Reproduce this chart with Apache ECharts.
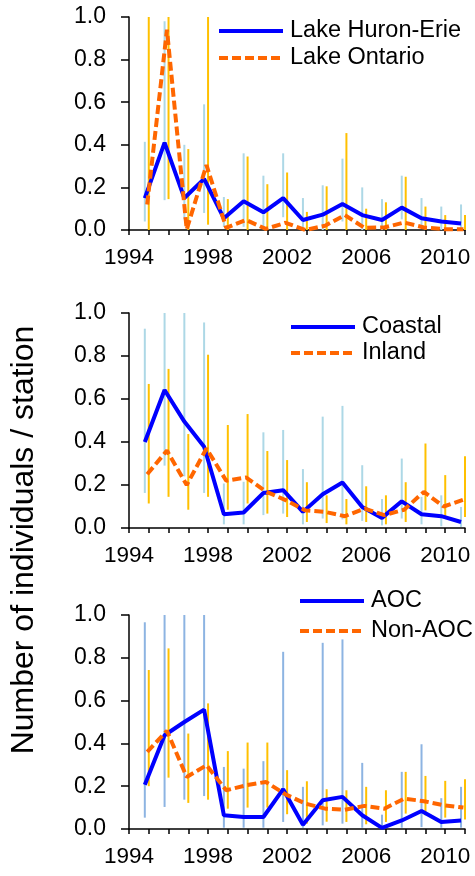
<!DOCTYPE html>
<html>
<head>
<meta charset="utf-8">
<script src="https://cdn.jsdelivr.net/npm/echarts@6/dist/echarts.min.js"></script>
<style>
  html, body { margin: 0; padding: 0; background: #fff; }
  #chart { width: 475px; height: 876px; }
</style>
</head>
<body>
<div id="chart"></div>
<script>
const years = [1995, 1996, 1997, 1998, 1999, 2000, 2001, 2002, 2003, 2004, 2005, 2006, 2007, 2008, 2009, 2010, 2011];

// panel 1
const huronErie = [0.15, 0.41, 0.15, 0.24, 0.055, 0.135, 0.083, 0.15, 0.047, 0.072, 0.122, 0.07, 0.047, 0.105, 0.055, 0.04, 0.03];
const huronErieLow = [0.04, 0.14, 0.05, 0.08, 0.015, 0.015, 0.015, 0.06, 0, 0, 0.04, 0, 0, 0.05, 0.015, 0, 0];
const huronErieHigh = [0.414, 0.98, 0.40, 0.59, 0.155, 0.36, 0.255, 0.36, 0.15, 0.21, 0.335, 0.2, 0.145, 0.255, 0.15, 0.11, 0.12];
const ontario = [0.12, 0.94, 0.003, 0.305, 0.01, 0.047, 0.005, 0.034, 0.0, 0.02, 0.07, 0.01, 0.012, 0.035, 0.012, 0.004, 0.004];
const ontarioLow = [0, 0.145, 0, 0.025, 0, 0, 0, 0, 0, 0, 0, 0, 0, 0, 0, 0, 0];
const ontarioHigh = [1, 1, 0.38, 1, 0.145, 0.345, 0.215, 0.27, 0.085, 0.205, 0.455, 0.10, 0.13, 0.25, 0.11, 0.07, 0.07];

// panel 2
const coastal = [0.40, 0.642, 0.495, 0.378, 0.064, 0.072, 0.163, 0.176, 0.075, 0.157, 0.212, 0.098, 0.047, 0.124, 0.064, 0.055, 0.028];
const coastalLow = [0.163, 0.29, 0.24, 0.163, 0.017, 0.017, 0.06, 0.067, 0.017, 0.044, 0.04, 0.033, 0.012, 0.044, 0.017, 0.008, 0.005];
const coastalHigh = [0.927, 1, 1, 0.956, 0.207, 0.215, 0.445, 0.456, 0.274, 0.518, 0.568, 0.292, 0.135, 0.323, 0.145, 0.152, 0.098];
const inland = [0.25, 0.36, 0.20, 0.37, 0.22, 0.235, 0.17, 0.13, 0.082, 0.075, 0.055, 0.09, 0.06, 0.085, 0.168, 0.10, 0.132];
const inlandLow = [0.114, 0.145, 0.085, 0.145, 0.085, 0.114, 0.067, 0.051, 0.028, 0.023, 0.017, 0.028, 0.017, 0.028, 0.082, 0.044, 0.051];
const inlandHigh = [0.67, 0.74, 0.437, 0.806, 0.479, 0.53, 0.358, 0.316, 0.213, 0.152, 0.135, 0.194, 0.152, 0.213, 0.393, 0.246, 0.334];

// panel 3
const aoc = [0.207, 0.438, 0.50, 0.558, 0.064, 0.056, 0.056, 0.186, 0.02, 0.134, 0.15, 0.064, 0.005, 0.04, 0.084, 0.033, 0.04];
const aocLow = [0.053, 0.103, 0.137, 0.154, 0.006, 0.006, 0.006, 0.033, 0.006, 0.017, 0.025, 0.006, 0, 0.006, 0.009, 0.006, 0.006];
const aocHigh = [0.966, 1, 1, 1, 0.29, 0.282, 0.317, 0.828, 0.197, 0.87, 0.886, 0.309, 0.067, 0.267, 0.396, 0.144, 0.197];
const nonAoc = [0.36, 0.459, 0.243, 0.298, 0.181, 0.204, 0.22, 0.162, 0.119, 0.095, 0.09, 0.108, 0.095, 0.142, 0.13, 0.111, 0.10];
const nonAocLow = [0.2, 0.24, 0.122, 0.137, 0.095, 0.1, 0.1, 0.069, 0.025, 0.034, 0.033, 0.022, 0.033, 0.072, 0.064, 0.053, 0.044];
const nonAocHigh = [0.743, 0.844, 0.446, 0.587, 0.364, 0.404, 0.404, 0.275, 0.223, 0.186, 0.181, 0.197, 0.181, 0.267, 0.248, 0.225, 0.232];

const yTicks = [0, 0.2, 0.4, 0.6, 0.8, 1.0];
const yTitle = 'Number of individuals / station';

const FONT = '"Liberation Sans", Arial, sans-serif';
const BLUE = '#0000ff';
const ORANGE = '#ff6600';
const GOLD = '#ffc000';

// blue series sit a bit left of the year, orange ones a bit right
const blueShift = -0.2, orangeShift = -0.08, orangeBarShift = 0;

const panels = [
  { top: 17, height: 213, names: ['Lake Huron-Erie', 'Lake Ontario'],
    a: huronErie, aLo: huronErieLow, aHi: huronErieHigh,
    b: ontario, bLo: ontarioLow, bHi: ontarioHigh,
    barBlue: '#add8e6', legend: { left: 217, top: 19, gap: 3 } },
  { top: 313, height: 215, names: ['Coastal', 'Inland'],
    a: coastal, aLo: coastalLow, aHi: coastalHigh,
    b: inland, bLo: inlandLow, bHi: inlandHigh,
    barBlue: '#add8e6', legend: { left: 289, top: 315, gap: 2 } },
  { top: 615, height: 214, names: ['AOC', 'Non-AOC'],
    a: aoc, aLo: aocLow, aHi: aocHigh,
    b: nonAoc, bLo: nonAocLow, bHi: nonAocHigh,
    barBlue: '#8db4e2', legend: { left: 298, top: 589, gap: 6 } }
];

const errorBar = (color) => (params, api) => {
  const p1 = api.coord([api.value(0), api.value(1)]);
  const p2 = api.coord([api.value(0), api.value(2)]);
  return {
    type: 'line',
    shape: { x1: p1[0], y1: p1[1], x2: p2[0], y2: p2[1] },
    style: { stroke: color, lineWidth: 2 }
  };
};

const grid = [], xAxis = [], yAxis = [], series = [], legend = [];

panels.forEach((p, i) => {
  grid.push({ left: 129, right: 10, top: p.top, height: p.height });
  xAxis.push({
    type: 'value', gridIndex: i, min: 1994, max: 2011, interval: 1,
    axisLine: { lineStyle: { color: '#000', width: 1.5 } },
    axisTick: { length: 5, lineStyle: { color: '#000', width: 1.5 } },
    axisLabel: {
      color: '#000', fontFamily: FONT, fontSize: 22.5, margin: 16,
      formatter: v => ((v - 1994) % 4 === 0 && v < 2011) ? String(v) : ''
    },
    splitLine: { show: false }
  });
  yAxis.push({
    type: 'value', gridIndex: i, min: yTicks[0], max: yTicks[yTicks.length - 1], interval: 0.2,
    axisLine: { show: true, lineStyle: { color: '#000', width: 1.5 } },
    axisTick: { show: true, length: 8, lineStyle: { color: '#000', width: 1.5 } },
    axisLabel: { color: '#000', fontFamily: FONT, fontSize: 23, margin: 23, formatter: v => v.toFixed(1) },
    splitLine: { show: false }
  });
  series.push({
    type: 'custom', xAxisIndex: i, yAxisIndex: i, z: 1, silent: true,
    renderItem: errorBar(p.barBlue),
    encode: { x: 0, y: [1, 2] },
    data: years.map((y, k) => [y + blueShift, p.aLo[k], p.aHi[k]])
  });
  series.push({
    type: 'custom', xAxisIndex: i, yAxisIndex: i, z: 1, silent: true,
    renderItem: errorBar(GOLD),
    encode: { x: 0, y: [1, 2] },
    data: years.map((y, k) => [y + orangeBarShift, p.bLo[k], p.bHi[k]])
  });
  series.push({
    name: p.names[0], type: 'line', xAxisIndex: i, yAxisIndex: i, z: 3,
    symbol: 'none', color: BLUE,
    lineStyle: { color: BLUE, width: 4 },
    data: years.map((y, k) => [y + blueShift, p.a[k]])
  });
  series.push({
    name: p.names[1], type: 'line', xAxisIndex: i, yAxisIndex: i, z: 4,
    symbol: 'none', color: ORANGE,
    lineStyle: { color: ORANGE, width: 4, type: [9, 4] },
    data: years.map((y, k) => [y + orangeShift, p.b[k]])
  });
  legend.push({
    data: p.names, orient: 'vertical', left: p.legend.left, top: p.legend.top,
    itemWidth: 64, itemHeight: 14, itemGap: p.legend.gap, padding: 0,
    selectedMode: false,
    itemStyle: { opacity: 0 },
    lineStyle: { width: 4 },
    textStyle: { color: '#000', fontFamily: FONT, fontSize: 23.5, lineHeight: 24, padding: [0, 0, 0, 2] }
  });
});

const chart = echarts.init(document.getElementById('chart'));
chart.setOption({
  animation: false,
  backgroundColor: '#fff',
  grid, xAxis, yAxis, series, legend,
  graphic: [{
    type: 'text', x: 24, y: 540, rotation: Math.PI / 2,
    style: {
      text: yTitle, fill: '#000', font: '32px ' + FONT,
      textAlign: 'center', textVerticalAlign: 'middle'
    }
  }]
});
</script>
</body>
</html>
